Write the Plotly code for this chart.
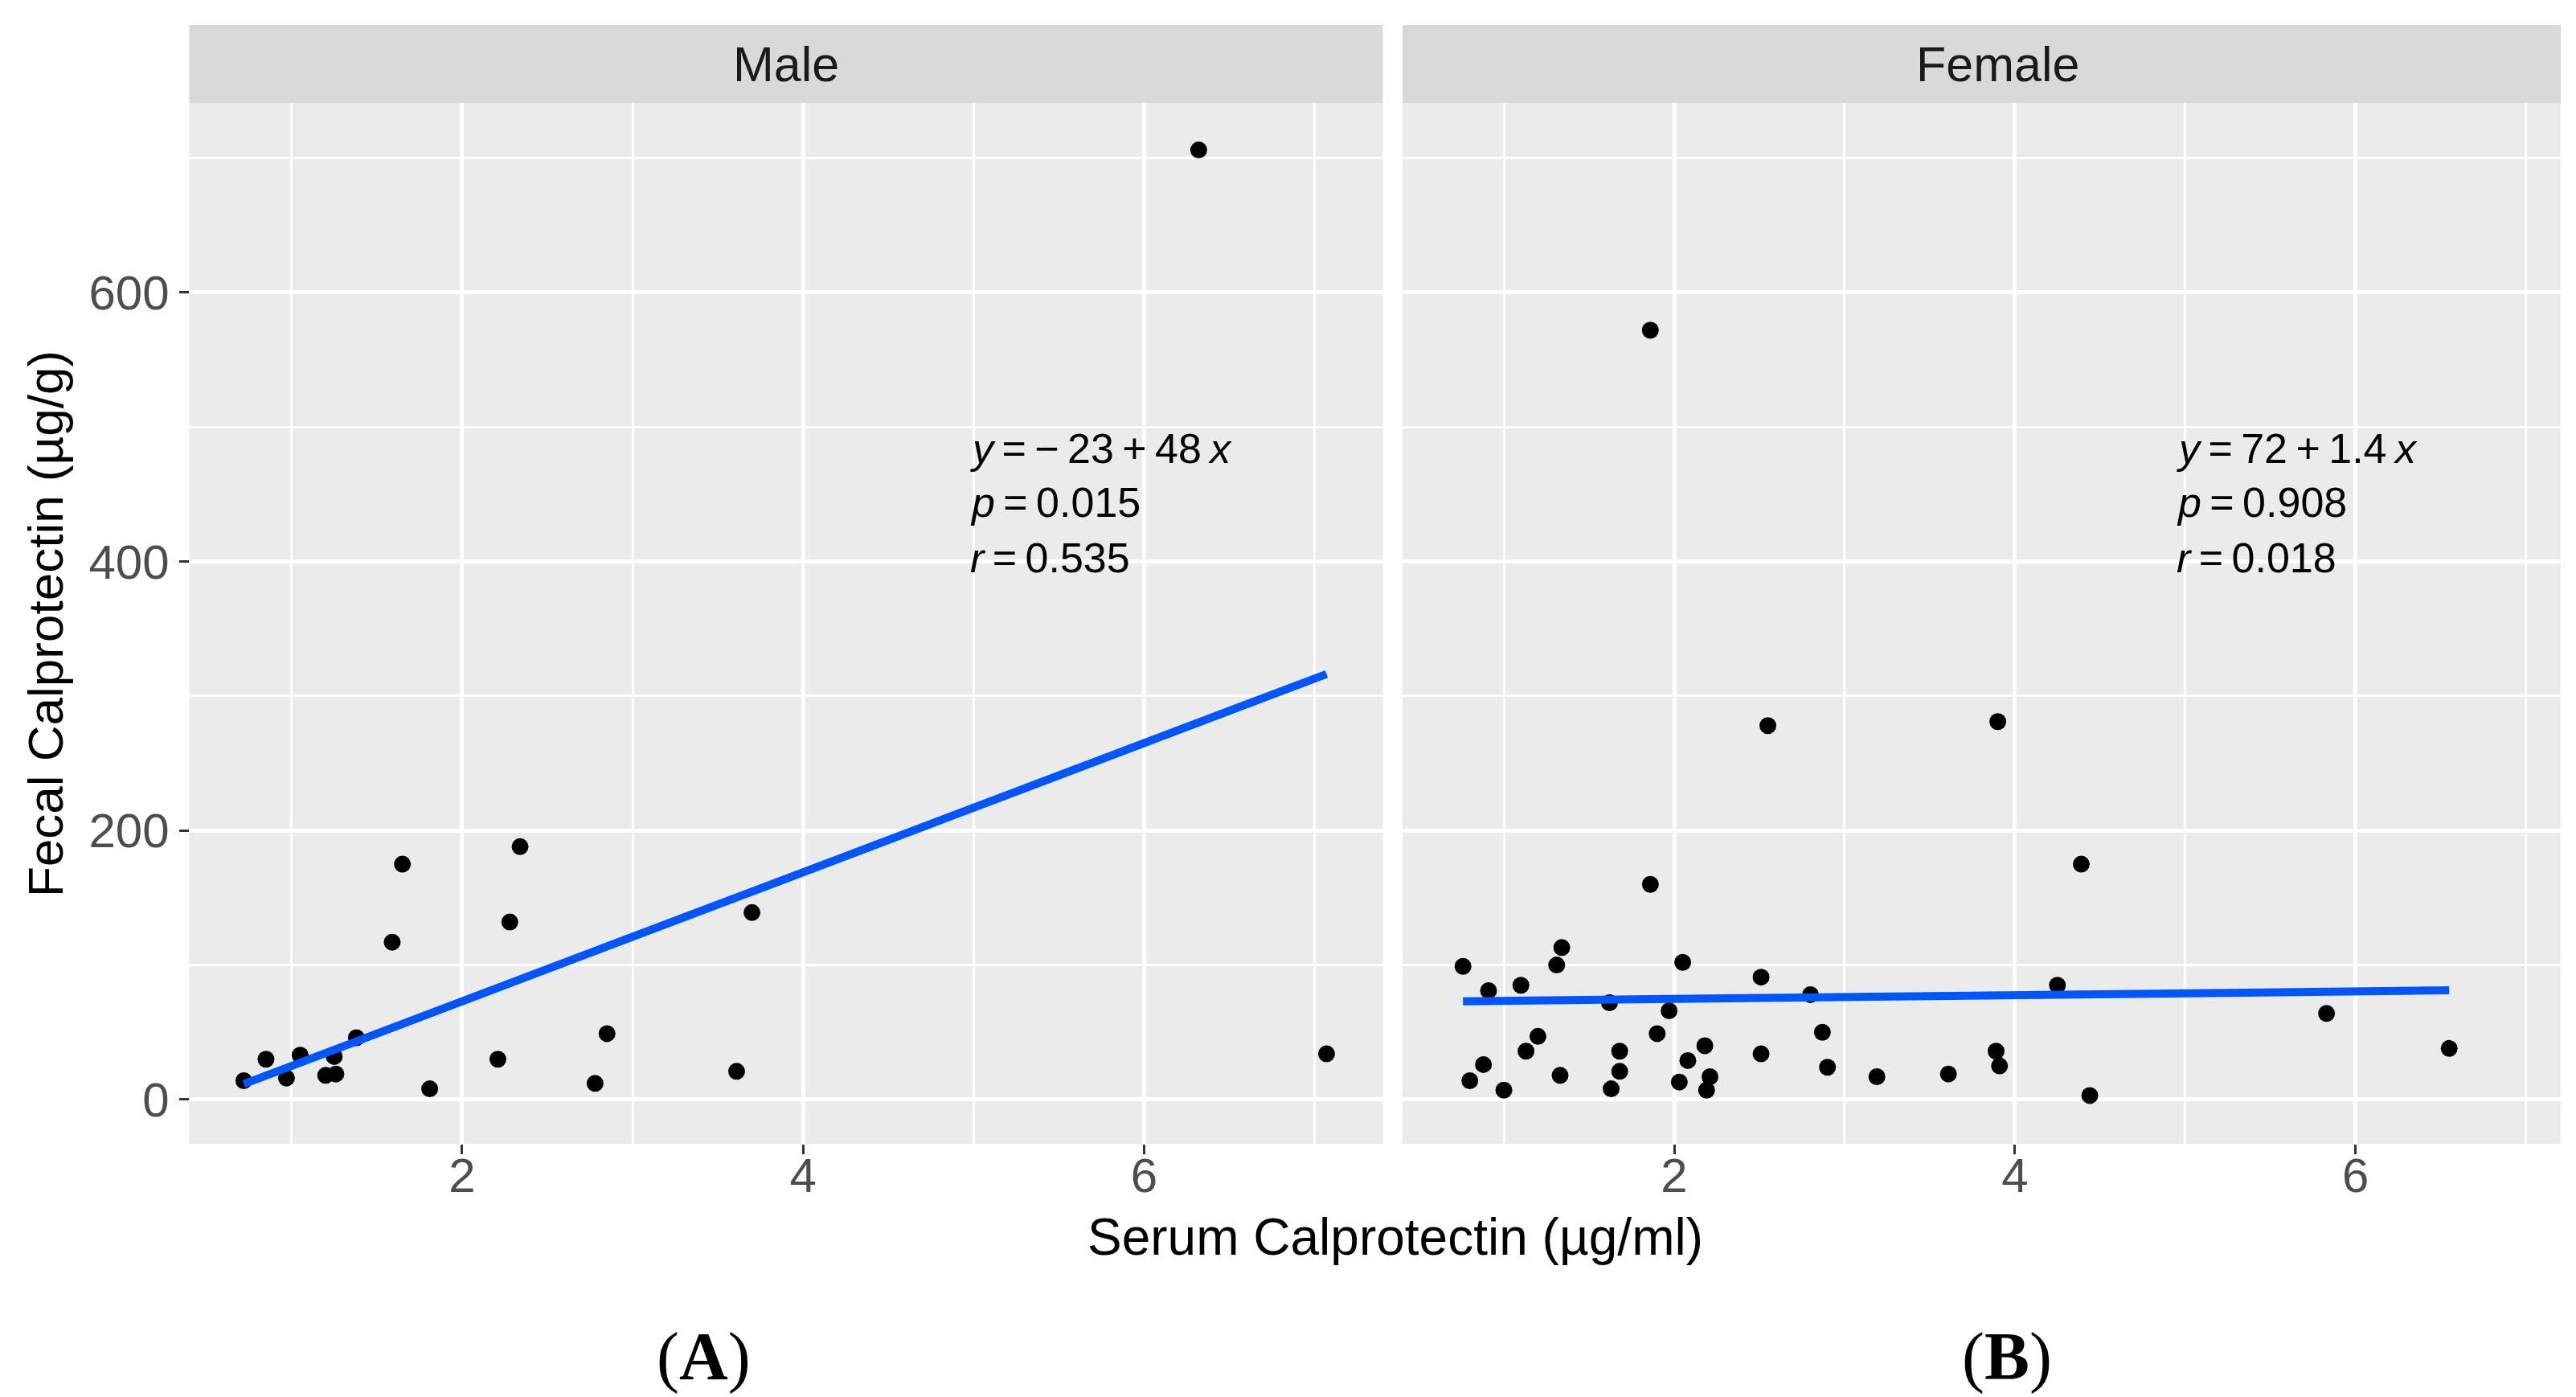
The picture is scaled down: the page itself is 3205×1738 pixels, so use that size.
import plotly.graph_objects as go

# ---------------- data ----------------
panels = ["Male", "Female"]

male_x = [0.72, 0.85, 0.97, 1.05, 1.20, 1.26, 1.25, 1.38, 1.59, 1.65,
          1.81, 2.21, 2.28, 2.34, 2.78, 2.85, 3.61, 3.70, 6.32, 7.07]
male_y = [14, 30, 16, 33, 18, 19, 32, 46, 117, 175,
          8, 30, 132, 188, 12, 49, 21, 139, 706, 34]

female_x = [0.76, 0.91, 1.10, 1.34, 1.31, 2.05, 1.86, 2.51, 2.80, 4.25,
            4.39, 1.62, 1.97, 1.90, 1.20, 1.13, 1.68, 2.18, 2.08, 2.51,
            2.87, 2.90, 3.19, 3.61, 3.89, 3.91, 4.44, 0.88, 0.80, 1.00,
            1.33, 1.68, 1.63, 2.03, 2.21, 2.19, 1.86, 2.55, 3.90, 5.83,
            6.55]
female_y = [99, 81, 85, 113, 100, 102, 160, 91, 78, 85,
            175, 72, 66, 49, 47, 36, 36, 40, 29, 34,
            50, 24, 17, 19, 36, 25, 3, 26, 14, 7,
            18, 21, 8, 13, 17, 7, 572, 278, 281, 64,
            38]

male_intercept, male_slope = -23, 48
female_intercept, female_slope = 72, 1.4
male_p, male_r = "0.015", "0.535"
female_p, female_r = "0.908", "0.018"

x_ticks = [2, 4, 6]
x_minor = [1, 3, 5, 7]
y_ticks = [0, 200, 400, 600]
y_minor = [100, 300, 500, 700]

x_title = "Serum Calprotectin (µg/ml)"
y_title = "Fecal Calprotectin (µg/g)"
panel_tags = ["A", "B"]

# ---------------- layout helpers ----------------
W, H = 3205, 1738
def fx(px):
    return px / W
def fy(py):
    return 1 - py / H

SANS = "Liberation Sans, Arial, Helvetica, sans-serif"
SERIF = "Liberation Serif, Times New Roman, serif"
TS = "\u2009"  # thin space
LINE_COLOR = "#0055FF"

male_dom = [fx(227.5), fx(1712.5)]
female_dom = [fx(1737), fx(3178)]
panel_top, panel_bot = 120, 1415
strip_top = 23
y_dom = [fy(panel_bot), fy(panel_top)]

fig = go.Figure()

def fit_line(xs, a, b):
    lo, hi = min(xs), max(xs)
    return [lo, hi], [a + b * lo, a + b * hi]

# Male
fig.add_trace(go.Scatter(x=male_x, y=male_y, mode="markers",
                         marker=dict(color="black", size=21),
                         xaxis="x", yaxis="y", showlegend=False))
lx, ly = fit_line(male_x, male_intercept, male_slope)
fig.add_trace(go.Scatter(x=lx, y=ly, mode="lines",
                         line=dict(color=LINE_COLOR, width=10),
                         xaxis="x", yaxis="y", showlegend=False))
# Female
fig.add_trace(go.Scatter(x=female_x, y=female_y, mode="markers",
                         marker=dict(color="black", size=21),
                         xaxis="x2", yaxis="y2", showlegend=False))
lx, ly = fit_line(female_x, female_intercept, female_slope)
fig.add_trace(go.Scatter(x=lx, y=ly, mode="lines",
                         line=dict(color=LINE_COLOR, width=10),
                         xaxis="x2", yaxis="y2", showlegend=False))

common_x = dict(
    tickmode="array", tickvals=x_ticks, ticks="outside", ticklen=12,
    tickwidth=2.5, tickcolor="#333333", ticklabelstandoff=-25,
    tickfont=dict(family=SANS, size=60, color="#4D4D4D"),
    showgrid=True, gridcolor="white", gridwidth=4.5,
    minor=dict(tickmode="array", tickvals=x_minor, showgrid=True,
               gridcolor="white", gridwidth=2.5, ticks=""),
    zeroline=False, showline=False, automargin=False,
)
common_y = dict(
    tickmode="array", tickvals=y_ticks, range=[-32.9, 741],
    showgrid=True, gridcolor="white", gridwidth=4.5,
    minor=dict(tickmode="array", tickvals=y_minor, showgrid=True,
               gridcolor="white", gridwidth=2.5, ticks=""),
    zeroline=False, showline=False, automargin=False, domain=y_dom,
)

fig.update_layout(
    width=W, height=H,
    margin=dict(l=0, r=0, t=0, b=0),
    paper_bgcolor="white", plot_bgcolor="#EBEBEB",
    font=dict(family=SANS, color="black"),
    xaxis=dict(domain=male_dom, range=[0.40, 7.40], anchor="y", **common_x),
    xaxis2=dict(domain=female_dom, range=[0.405, 7.205], anchor="y2", **common_x),
    yaxis=dict(anchor="x", ticks="outside", ticklen=12, tickwidth=2.5,
               tickcolor="#333333",
               tickfont=dict(family=SANS, size=60, color="#4D4D4D"),
               **common_y),
    yaxis2=dict(anchor="x2", showticklabels=False, ticks="", **common_y),
)

shapes = []
annotations = []
strip_centers = [970, 2477]
for dom, name, cx in zip([male_dom, female_dom], panels, strip_centers):
    shapes.append(dict(type="rect", xref="paper", yref="paper",
                       x0=dom[0], x1=dom[1], y0=fy(panel_top), y1=fy(strip_top),
                       fillcolor="#D9D9D9", line=dict(width=0), layer="below"))
    annotations.append(dict(text=name, xref="paper", yref="paper",
                            x=fx(cx), y=fy((strip_top + panel_top) / 2),
                            showarrow=False, xanchor="center", yanchor="middle",
                            font=dict(family=SANS, size=61, color="#1A1A1A")))

def sign_term(v):
    return ("\u2212" + TS + str(abs(v))) if v < 0 else str(v)

stats = [
    ("x", "y", male_intercept, male_slope, male_p, male_r, 4.97),
    ("x2", "y2", female_intercept, female_slope, female_p, female_r, 4.94),
]
for xr, yr, a, b, p, r, x0 in stats:
    lines = [
        f"<i>y</i>{TS}={TS}{sign_term(a)}{TS}+{TS}{b}{TS}<i>x</i>",
        f"<i>p</i>{TS}={TS}{p}",
        f"<i>r</i>{TS}={TS}{r}",
    ]
    for txt, yv in zip(lines, [484, 444, 403]):
        annotations.append(dict(text=txt, xref=xr, yref=yr, x=x0, y=yv,
                                showarrow=False, xanchor="left", yanchor="middle",
                                font=dict(family=SANS, size=52, color="black")))

annotations.append(dict(text=x_title, xref="paper", yref="paper",
                        x=fx(1728), y=fy(1531), showarrow=False,
                        xanchor="center", yanchor="middle",
                        font=dict(family=SANS, size=64, color="black")))
annotations.append(dict(text=y_title, xref="paper", yref="paper",
                        x=fx(48), y=fy(768), showarrow=False, textangle=-90,
                        xanchor="center", yanchor="middle",
                        font=dict(family=SANS, size=62, color="black")))
for tag, cx in zip(panel_tags, [867, 2489]):
    annotations.append(dict(text=f"(<b>{tag}</b>)", xref="paper", yref="paper",
                            x=fx(cx), y=fy(1680), showarrow=False,
                            xanchor="center", yanchor="middle",
                            font=dict(family=SERIF, size=84, color="black")))

fig.update_layout(shapes=shapes, annotations=annotations)
fig.write_html("out.html")
